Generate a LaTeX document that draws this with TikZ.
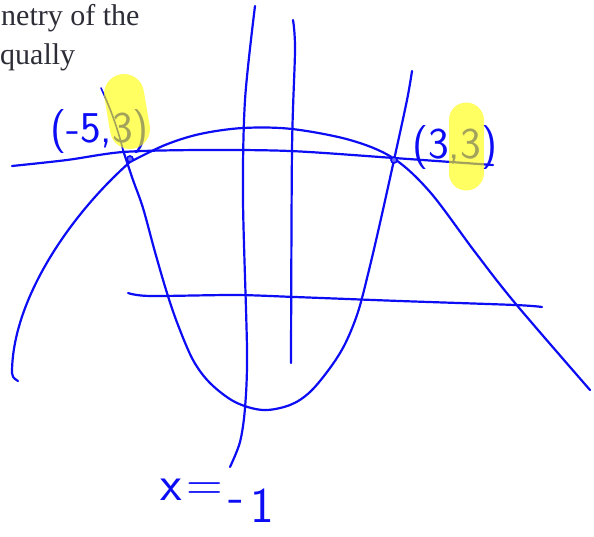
\documentclass[tikz,border=0pt]{standalone}
\usepackage{fontspec}
\newfontfamily\printfont{Liberation Serif}
\definecolor{ink}{RGB}{12,12,245}
\definecolor{hl}{RGB}{255,255,0}
\definecolor{printink}{RGB}{45,45,55}
\begin{document}
\begin{tikzpicture}[x=1pt,y=-1pt,
  pen/.style={draw=ink,line width=2.2pt,line cap=round,line join=round},
  thinpen/.style={draw=ink,line width=1.6pt,line cap=round},
  hilite/.style={draw=hl,line cap=round,opacity=0.62},
  hand/.style={text=ink,font=\sffamily\fontsize{44}{44}\selectfont,inner sep=0pt,anchor=base west},
  printed/.style={text=printink,font=\printfont\fontsize{30}{30}\selectfont,inner sep=0pt,anchor=base west},
  dotmark/.style={circle,draw=ink,fill=ink!60,line width=1.6pt,inner sep=0pt,minimum size=6pt}]
\useasboundingbox (0,0) rectangle (594,536);
\fill[white] (0,0) rectangle (594,536);

% printed text
\node[printed] (t1) at (1,25) {netry of the};
\node[printed] (t2) at (0,64) {qually};

% downward parabola
\draw[pen] (18,381) .. controls (13,378) and (12,376) .. (12,373)
  .. controls (12,300) and (70,215) .. (130,162);
\draw[pen] plot[smooth,tension=0.55] coordinates {(130,162) (165,145) (200,134) (243,128) (292,129) (350,140) (393,158) (430,192) (475,252) (515,303) (590,390)};

% upward parabola
\draw[pen] plot[smooth,tension=0.55] coordinates {(123,150) (133,180) (143,208) (155,252) (167,293) (178,325) (193,360) (210,383) (235,402) (263,410) (290,405) (310,392) (330,368) (345,344) (358,312) (369,270) (380,223) (394,160) (407,100) (412,71)};

% upper horizontal line
\draw[pen] plot[smooth,tension=0.5] coordinates {(12,166) (67,160) (123,152) (200,150) (290,151) (394,158) (493,165)};

% lower horizontal line
\draw[pen] plot[smooth,tension=0.5] coordinates {(128,293) (150,296) (235,295) (295,297) (400,301) (515,305) (542,307)};

% vertical line 1 (x = -1)
\draw[pen] plot[smooth,tension=0.5] coordinates {(255,6) (245,100) (243,200) (247,350) (245,408) (240,442) (230,467)};

% vertical line 2
\draw[pen] plot[smooth,tension=0.5] coordinates {(293,20) (295,50) (292,150) (291,363)};

% intersection dots
\node[dotmark] (p1) at (130,159) {};
\node[dotmark] (p2) at (394,160) {};

% handwritten labels
\node[hand] (lab1) at (50,142) {(-5,3)};
\draw[thinpen] (101,88) .. controls (112,112) and (118,130) .. (123,150);
\node[hand] (lab2) at (412,158) {(3,3)};
\node[hand,font=\sffamily\fontsize{50}{50}\selectfont] (xl) at (160,500) {x\kern5pt=\kern5pt\raisebox{-12pt}{-}\kern6pt\raisebox{-22pt}{1}};

% highlights
\draw[hilite,line width=40pt] (124,94) -- (130,129);
\draw[hilite,line width=35pt] (466,120) -- (466,173);
\end{tikzpicture}
\end{document}
